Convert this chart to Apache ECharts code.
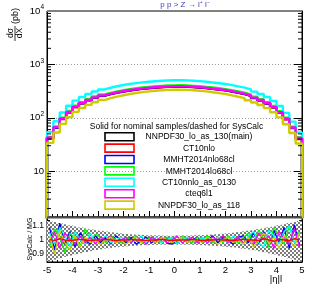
<!DOCTYPE html>
<html><head><meta charset="utf-8">
<script src="https://cdn.jsdelivr.net/npm/echarts@6/dist/echarts.min.js"></script>
<style>html,body{margin:0;padding:0;background:#fff}#c{width:318px;height:291px}</style>
</head><body><div id="c"></div>
<script>
// ---------- data ----------
const binEdges = [-5,-4.75,-4.5,-4.25,-4,-3.75,-3.5,-3.25,-3,-2.75,-2.5,-2.25,-2,-1.75,-1.5,-1.25,-1,-0.75,-0.5,-0.25,0,0.25,0.5,0.75,1,1.25,1.5,1.75,2,2.25,2.5,2.75,3,3.25,3.5,3.75,4,4.25,4.5,4.75,5];
const names = ['NNPDF30_lo_as_130(main)','CT10nlo','MMHT2014nlo68cl','MMHT2014lo68cl','CT10nnlo_as_0130','cteq6l1','NNPDF30_lo_as_118'];
const colors = ['#000000','#ff0000','#0000ff','#00ff00','#00ffff','#ff00ff','#cccc00'];
const valsMain  = [42,66,96,128,160,188,214,238,260,280,298,314,328,341,352,362,371,378,383,386,386,384,378,372,362,351,340,329,313,297,281,259,237,213,187,158,127,95,65,41];
const valsCT10  = [41,65,95,126,158,186,212,236,258,277,295,311,325,338,349,358,367,374,379,382,383,379,375,368,359,348,337,326,310,294,278,257,235,211,185,157,126,94,64,40];
const valsMMHTnlo = [43,66,97,128,161,189,214,239,261,281,299,315,329,342,353,363,372,379,384,387,388,385,380,373,364,352,341,330,315,298,282,260,238,214,188,159,128,96,66,42];
const valsMMHTlo  = [44,69,101,134,168,197,225,250,273,294,313,330,344,358,370,380,390,397,402,405,406,403,397,391,380,369,357,345,329,312,295,272,249,224,196,166,133,100,68,43];
const valsCT10nnlo = [54,86,126,168,210,246,280,311,340,366,390,411,429,446,460,473,485,494,501,505,505,502,494,486,473,459,445,430,409,388,367,339,310,279,245,207,166,124,85,53];
const valsCteq = [43,67,97,129,162,190,216,241,263,283,301,317,331,344,355,366,375,382,387,390,390,388,382,376,366,354,343,332,316,300,284,262,239,215,189,160,128,96,66,42];
const valsNNPDF118 = [34,53,77,103,129,153,175,196,215,233,250,265,279,291,302,312,321,328,333,336,336,334,328,322,312,301,290,279,263,248,233,213,194,174,152,127,102,76,52,33];

const ratioCenters = [-4.9,-4.7,-4.5,-4.3,-4.1,-3.9,-3.7,-3.5,-3.3,-3.1,-2.9,-2.7,-2.5,-2.3,-2.1,-1.9,-1.7,-1.5,-1.3,-1.1,-0.9,-0.7,-0.5,-0.3,-0.1,0.1,0.3,0.5,0.7,0.9,1.1,1.3,1.5,1.7,1.9,2.1,2.3,2.5,2.7,2.9,3.1,3.3,3.5,3.7,3.9,4.1,4.3,4.5,4.7,4.9];
const ratioRed = [1.005,0.995,1.01,1.0,0.995,1.0,1.005,1.0,0.995,1.0,1.0,1.005,1.0,0.995,1.0,1.0,1.005,1.0,1.0,0.995,1.0,1.0,1.005,1.0,0.995,1.0,1.0,1.0,1.005,1.0,0.995,1.0,1.0,1.005,1.0,1.0,0.995,1.0,1.005,1.0,1.0,0.995,1.01,1.0,0.99,1.005,1.0,0.995,1.01,1.0];
const ratioBlue = [1.09,0.93,1.12,0.97,1.06,0.95,1.05,1.00,0.97,1.03,0.98,1.02,0.97,1.03,1.00,0.98,1.02,0.97,1.00,1.02,0.98,1.00,1.02,0.98,0.97,1.00,1.02,0.98,1.00,1.02,0.98,1.00,1.03,0.98,1.02,1.00,0.97,1.02,1.03,0.98,1.05,0.97,1.06,0.95,1.07,0.98,1.09,0.94,1.11,0.96];
const ratioGreen = [0.95,1.08,1.03,0.91,1.05,1.01,0.95,1.08,1.00,1.04,1.02,0.98,1.03,1.00,0.98,1.02,1.00,1.03,0.98,1.00,1.02,1.00,0.98,1.02,1.00,0.98,1.03,1.00,0.98,1.02,1.00,1.03,0.98,1.02,0.98,1.03,1.00,0.98,1.02,1.05,0.98,1.07,1.01,0.95,1.09,1.03,0.97,1.10,1.00,1.06];
const ratioCyan = [1.05,0.97,1.09,1.03,0.95,1.06,1.00,0.97,1.05,0.98,1.00,1.03,0.98,1.00,1.02,1.00,0.98,1.00,1.03,0.98,1.00,1.02,0.98,1.00,1.02,0.97,1.00,1.02,1.00,0.98,1.02,0.98,1.00,1.02,1.00,0.98,1.03,1.00,0.97,1.03,1.06,0.98,0.95,1.07,1.03,0.97,1.06,1.10,0.98,1.04];
const ratioMagenta = [0.98,1.06,0.94,1.05,1.00,0.97,1.03,0.98,1.02,0.97,1.02,1.00,1.03,0.98,1.00,1.02,0.98,1.02,1.00,0.97,1.02,1.00,1.02,0.98,1.00,1.03,0.98,1.00,1.02,0.98,1.00,0.98,1.02,1.00,1.03,0.98,1.00,1.02,0.98,1.00,0.97,1.05,1.00,1.03,0.94,1.06,1.01,0.97,1.08,0.95];
const ratioYellow = [1.03,0.90,1.07,0.98,0.93,1.03,0.95,1.02,0.98,1.00,0.97,1.00,1.02,0.98,1.00,0.97,1.00,1.02,0.98,1.00,1.00,0.98,1.02,1.00,0.98,1.00,1.02,0.98,1.00,1.00,0.98,1.02,1.00,0.97,1.00,1.02,0.98,1.00,0.97,1.02,0.95,1.00,1.05,0.97,1.02,0.94,1.03,1.00,0.95,1.05];
const bandUpper = [1.135,1.128,1.12,1.112,1.104,1.096,1.089,1.082,1.076,1.07,1.065,1.06,1.055,1.051,1.047,1.044,1.041,1.038,1.036,1.034,1.033,1.032,1.031,1.03,1.03,1.03,1.031,1.031,1.032,1.034,1.035,1.037,1.039,1.042,1.045,1.048,1.052,1.056,1.061,1.066,1.071,1.077,1.083,1.09,1.097,1.105,1.113,1.121,1.129,1.137];
const bandLower = [0.85,0.86,0.87,0.88,0.889,0.898,0.906,0.914,0.921,0.928,0.934,0.939,0.944,0.948,0.952,0.955,0.958,0.96,0.962,0.964,0.965,0.966,0.967,0.967,0.968,0.968,0.967,0.967,0.966,0.965,0.963,0.961,0.959,0.957,0.954,0.951,0.947,0.943,0.938,0.933,0.927,0.92,0.913,0.905,0.897,0.888,0.879,0.869,0.859,0.848];
const yTickLabels = {10:'10', 100:'10{s|2}', 1000:'10{s|3}', 10000:'10{s|4}'};
const ratioTickLabels = {'0.9':'0.9', '1':'1', '1.1':'1.1'};

// ---------- build ----------
const allVals = [valsMain, valsCT10, valsMMHTnlo, valsMMHTlo, valsCT10nnlo, valsCteq, valsNNPDF118];
const ratioVals = [ratioBlue, ratioGreen, ratioCyan, ratioMagenta, ratioYellow, ratioRed];
const ratioColors = ['#0000ff','#00ff00','#00ffff','#ff00ff','#cccc00','#ff0000'];
function stepData(vals){
  const n = vals.length;
  const d = [[binEdges[0], 1]];
  vals.forEach((v,i)=>d.push([binEdges[i], v]));
  d.push([binEdges[n], vals[n-1]]);
  d.push([binEdges[n], 1]);
  return d;
}
const pat = document.createElement('canvas');
pat.width = 4; pat.height = 4;
(function(){const g = pat.getContext('2d'); g.fillStyle='#fff'; g.fillRect(0,0,4,4); g.fillStyle='#7a7a7a'; g.fillRect(0,0,2,2); g.fillRect(2,2,2,2);})();

const FONT = 'Liberation Sans, Arial, sans-serif';
const chart = echarts.init(document.getElementById('c'), null, {renderer:'canvas'});
const series = [];
allVals.forEach((v,i)=>series.push({
  type:'line', name:names[i], xAxisIndex:0, yAxisIndex:0, step:'end', symbol:'none',
  data: stepData(v), lineStyle:{color:colors[i], width:2.4}, itemStyle:{color:colors[i]}, z:3, animation:false
}));
// log minor ticks on top panel (left & right)
const minorLog = [];
[1,10,100,1000].forEach(dec=>[2,3,4,5,6,7,8,9].forEach(m=>minorLog.push([m*dec])));
series.push({
  type:'custom', xAxisIndex:0, yAxisIndex:0, data:minorLog, silent:true, animation:false, z:5,
  renderItem:(params, api)=>{
    const l = api.coord([-5, api.value(0)]);
    const r = api.coord([5, api.value(0)]);
    return {type:'group', children:[
      {type:'line', shape:{x1:l[0], y1:l[1], x2:l[0]+4, y2:l[1]}, style:{stroke:'#000', lineWidth:1}},
      {type:'line', shape:{x1:r[0], y1:r[1], x2:r[0]-4, y2:r[1]}, style:{stroke:'#000', lineWidth:1}}
    ]};
  },
  encode:{y:0}
});
// band in ratio panel
series.push({
  type:'custom', xAxisIndex:1, yAxisIndex:2, clip:true, silent:true, animation:false, z:1,
  data: ratioCenters.map((c,i)=>[c-0.1, c+0.1, bandLower[i], bandUpper[i]]),
  renderItem:(params, api)=>{
    const p1 = api.coord([api.value(0), api.value(3)]);
    const p2 = api.coord([api.value(1), api.value(2)]);
    return {type:'rect', shape:{x:p1[0], y:p1[1], width:p2[0]-p1[0]+0.5, height:p2[1]-p1[1]},
      style:{fill:{image:pat, repeat:'repeat'}}};
  },
  encode:{x:[0,1], y:[2,3]}
});
ratioVals.forEach((v,i)=>series.push({
  type:'line', xAxisIndex:1, yAxisIndex:2, symbol:'none', animation:false, z:3,
  data: ratioCenters.map((c,j)=>[c, v[j]]),
  lineStyle:{color:ratioColors[i], width:1.3}
}));

const axLine = {show:true, onZero:false, lineStyle:{color:'#000', width:1}};
const option = {
  animation:false,
  textStyle:{fontFamily:FONT},
  grid:[
    {left:47, top:11, width:255, height:206, show:true, borderColor:'#000', borderWidth:1},
    {left:47, top:217, width:255, height:45, show:true, borderColor:'#000', borderWidth:1}
  ],
  xAxis:[
    {gridIndex:0, type:'value', min:-5, max:5, interval:1, axisLine:axLine,
     axisTick:{inside:true, length:6, lineStyle:{color:'#000'}},
     minorTick:{show:true, splitNumber:5, length:3, lineStyle:{color:'#000'}},
     axisLabel:{show:false}, splitLine:{show:false}},
    {gridIndex:1, type:'value', min:-5, max:5, interval:1, axisLine:axLine,
     axisTick:{inside:true, length:4, lineStyle:{color:'#000'}},
     minorTick:{show:true, splitNumber:5, length:2, lineStyle:{color:'#000'}},
     axisLabel:{fontSize:9.5, color:'#000', margin:3, fontFamily:FONT}, splitLine:{show:false}}
  ],
  yAxis:[
    {gridIndex:0, type:'log', logBase:10, min:1.39, max:10000, position:'left', axisLine:axLine,
     axisTick:{inside:true, length:8, lineStyle:{color:'#000'}},
     axisLabel:{showMinLabel:false, margin:3, color:'#000', fontSize:9.5, fontFamily:FONT,
       formatter:(v)=>{const k = Math.round(v); return yTickLabels[k] && Math.abs(v-k)<1e-6*k ? yTickLabels[k] : '';},
       rich:{s:{fontSize:6.5, verticalAlign:'top', padding:[0,0,7,0], fontFamily:FONT, color:'#000'}}},
     splitLine:{show:true, lineStyle:{color:'#999', type:[1,2], width:1}}},
    {gridIndex:0, type:'log', logBase:10, min:1.39, max:10000, position:'right', axisLine:axLine,
     axisTick:{inside:true, length:8, lineStyle:{color:'#000'}}, axisLabel:{show:false}, splitLine:{show:false}},
    {gridIndex:1, type:'value', min:0.843, max:1.164, splitNumber:3, position:'left', axisLine:axLine,
     axisTick:{inside:true, length:6, lineStyle:{color:'#000'}},
     minorTick:{show:true, splitNumber:5, length:3, lineStyle:{color:'#000'}},
     axisLabel:{margin:3, color:'#000', fontSize:8.5, fontFamily:FONT, showMinLabel:false, showMaxLabel:false,
       formatter:(v)=>{const k = (Math.round(v*10)/10).toString(); return Math.abs(v-Math.round(v*10)/10)<1e-6 && ratioTickLabels[k] ? ratioTickLabels[k] : '';}},
     splitLine:{show:false}},
    {gridIndex:1, type:'value', min:0.843, max:1.164, splitNumber:3, position:'right', axisLine:axLine,
     axisTick:{inside:true, length:6, lineStyle:{color:'#000'}},
     minorTick:{show:true, splitNumber:5, length:3, lineStyle:{color:'#000'}},
     axisLabel:{show:false}, splitLine:{show:false}}
  ],
  series: series,
  graphic: [
    {type:'line', shape:{x1:47, y1:11, x2:302, y2:11}, style:{stroke:'#808080', lineWidth:2}, z:10},
    {type:'line', shape:{x1:47, y1:217.5, x2:302, y2:217.5}, style:{stroke:'#505050', lineWidth:2}, z:10},
    {type:'text', x:185, y:5, style:{text:'p p > Z \u2192 l\u207a l\u207b', fill:'#3a3ab8', font:'8px '+FONT, align:'center', verticalAlign:'middle'}},
    {type:'text', x:16, y:16, rotation:Math.PI/2, style:{text:'(pb)', fill:'#000', font:'9px '+FONT, align:'center', verticalAlign:'middle'}},
    {type:'text', x:10.5, y:33, rotation:Math.PI/2, style:{text:'d\u03c3', fill:'#000', font:'8.5px '+FONT, align:'center', verticalAlign:'middle'}},
    {type:'text', x:19.5, y:33, rotation:Math.PI/2, style:{text:'dX', fill:'#000', font:'8.5px '+FONT, align:'center', verticalAlign:'middle'}},
    {type:'line', shape:{x1:15, y1:26, x2:15, y2:41}, style:{stroke:'#000', lineWidth:0.8}},
    {type:'text', x:30.5, y:239, rotation:Math.PI/2, style:{text:'SysCalc / MG', fill:'#000', font:'7px '+FONT, align:'center', verticalAlign:'middle'}},
    {type:'text', x:276, y:279, style:{text:'|\u03b7|l', fill:'#000', font:'9.5px '+FONT, align:'center', verticalAlign:'middle'}},
    {type:'text', x:176.5, y:127, style:{text:'Solid for nominal samples/dashed for SysCalc', fill:'#000', font:'8.5px '+FONT, align:'center', verticalAlign:'middle'}},
    ...names.map((n,i)=>({type:'rect', shape:{x:105, y:132.7+i*11.4, width:29, height:8}, style:{fill:'#fff', stroke:colors[i], lineWidth:1.6}})),
    ...names.map((n,i)=>({type:'text', x:199, y:137+i*11.4, style:{text:n, fill:'#000', font:'8.5px '+FONT, align:'center', verticalAlign:'middle'}}))
  ]
};
chart.setOption(option);
</script>
</body></html>
